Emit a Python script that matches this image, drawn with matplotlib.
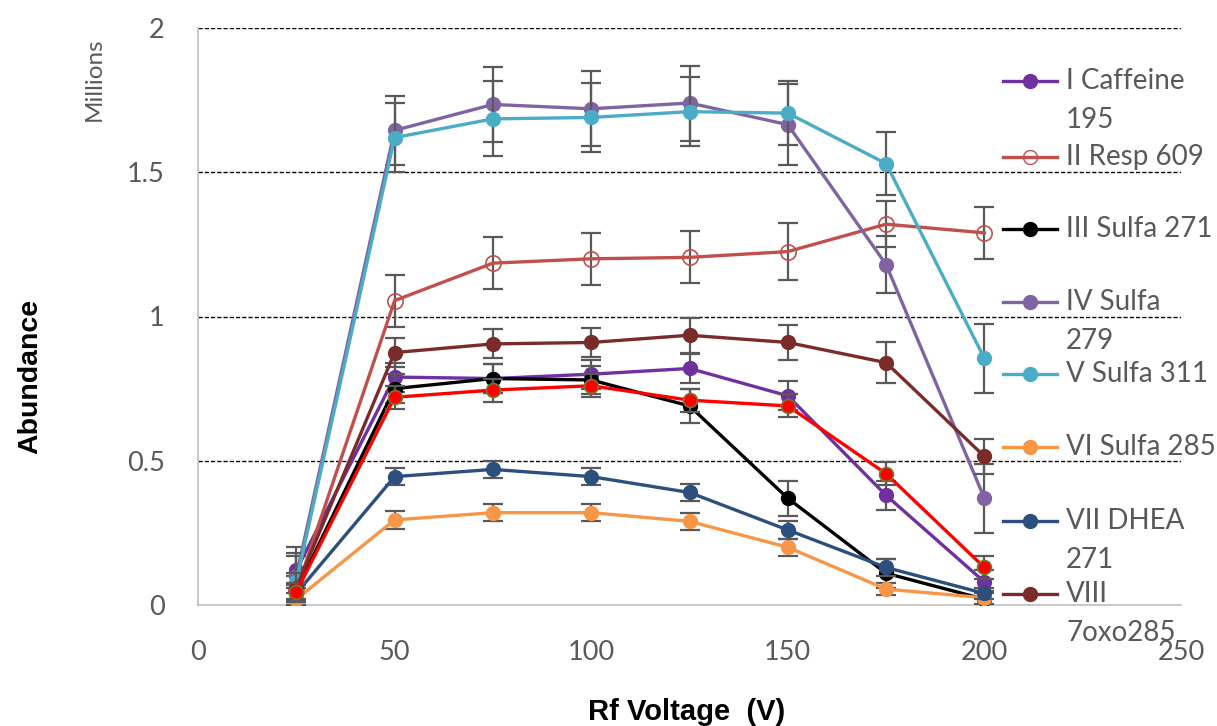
import numpy as np
import matplotlib
matplotlib.use("Agg")
import matplotlib.pyplot as plt
from matplotlib.lines import Line2D

# Rf voltage steps (V)
voltage = [25, 50, 75, 100, 125, 150, 175, 200]

# abundance, millions
caffeine = [0.12, 0.79, 0.785, 0.80, 0.82, 0.725, 0.38, 0.08]
caffeine_err = [0.05, 0.05, 0.05, 0.05, 0.05, 0.05, 0.05, 0.04]
resp609 = [0.05, 1.055, 1.185, 1.20, 1.205, 1.225, 1.32, 1.29]
resp609_err = [0.05, 0.09, 0.09, 0.09, 0.09, 0.10, 0.08, 0.09]
sulfa271 = [0.05, 0.75, 0.785, 0.78, 0.69, 0.37, 0.11, 0.02]
sulfa271_err = [0.05, 0.05, 0.05, 0.05, 0.06, 0.06, 0.05, 0.03]
sulfa279 = [0.10, 1.645, 1.735, 1.72, 1.74, 1.665, 1.18, 0.37]
sulfa279_err = [0.10, 0.12, 0.13, 0.13, 0.13, 0.14, 0.10, 0.12]
sulfa311 = [0.08, 1.62, 1.685, 1.69, 1.71, 1.705, 1.53, 0.855]
sulfa311_err = [0.10, 0.12, 0.13, 0.12, 0.12, 0.11, 0.11, 0.12]
sulfa285 = [0.02, 0.295, 0.32, 0.32, 0.29, 0.20, 0.055, 0.025]
sulfa285_err = [0.02, 0.03, 0.03, 0.03, 0.03, 0.03, 0.02, 0.02]
dhea271 = [0.04, 0.445, 0.47, 0.445, 0.39, 0.26, 0.13, 0.04]
dhea271_err = [0.02, 0.03, 0.03, 0.03, 0.03, 0.03, 0.03, 0.02]
oxo285 = [0.06, 0.875, 0.905, 0.91, 0.935, 0.91, 0.84, 0.515]
oxo285_err = [0.05, 0.05, 0.05, 0.05, 0.06, 0.06, 0.07, 0.06]
extra_red = [0.045, 0.72, 0.745, 0.76, 0.71, 0.69, 0.455, 0.13]
extra_red_err = [0.03, 0.04, 0.04, 0.04, 0.04, 0.04, 0.04, 0.04]

labels = ["I Caffeine\n195", "II Resp 609", "III Sulfa 271", "IV Sulfa\n279",
          "V Sulfa 311", "VI Sulfa 285", "VII DHEA\n271", "VIII\n7oxo285"]
series = [caffeine, resp609, sulfa271, sulfa279, sulfa311, sulfa285, dhea271, oxo285]
errors = [caffeine_err, resp609_err, sulfa271_err, sulfa279_err, sulfa311_err,
          sulfa285_err, dhea271_err, oxo285_err]
colors = ["#7030A0", "#C0504D", "#000000", "#8064A2", "#4BACC6", "#F79646",
          "#2C4F7C", "#7A2C2A"]
hollow = [False, True, False, False, False, False, False, False]

W, H = 1217, 726
fig = plt.figure(figsize=(W / 100, H / 100), dpi=100)
ax = fig.add_axes([198 / W, 1 - 605 / H, (1181 - 198) / W, (605 - 28) / H])

txt = "#595959"
font = "Lato"

def draw(y, yerr, c, open_marker=False, z=2):
    ax.errorbar(voltage, y, yerr=yerr, fmt="none", ecolor="#595959",
                elinewidth=1.6, capsize=7, capthick=1.6, zorder=z)
    ax.plot(voltage, y, color=c, lw=2.4, zorder=z + 0.5,
            marker="o", markersize=10 if not open_marker else 11,
            markerfacecolor="none" if open_marker else c,
            markeredgecolor=c, markeredgewidth=1.2 if open_marker else 1)

for i, (y, e, c, h) in enumerate(zip(series, errors, colors, hollow)):
    draw(y, e, c, h, z=2 + i)
# unlabeled red series
ax.errorbar(voltage, extra_red, yerr=extra_red_err, fmt="none", ecolor="#595959",
            elinewidth=1.6, capsize=7, capthick=1.6, zorder=11)
ax.plot(voltage, extra_red, color="#FF0000", lw=2.4, marker="o", markersize=10,
        markerfacecolor="#FF0000", markeredgecolor="#77772E", markeredgewidth=1.2,
        zorder=11.5)

ax.set_xlim(0, 250)
ax.set_ylim(0, 2)
ax.set_xticks([0, 50, 100, 150, 200, 250])
ax.set_yticks([0, 0.5, 1, 1.5, 2])
ax.set_yticklabels(["0", "0.5", "1", "1.5", "2"])
for yv in [0.5, 1, 1.5, 2]:
    ax.axhline(yv, color="black", lw=1.0, ls=(0, (3, 1.5)), zorder=1)
ax.tick_params(length=0, labelsize=19.5, labelcolor=txt)
ax.tick_params(axis="y", pad=24)
ax.tick_params(axis="x", pad=25)
for lab in ax.get_xticklabels() + ax.get_yticklabels():
    lab.set_fontfamily(font)
for s in ["top", "right"]:
    ax.spines[s].set_visible(False)
for s in ["left", "bottom"]:
    ax.spines[s].set_color("#BFBFBF")
    ax.spines[s].set_linewidth(1.2)
ax.set_facecolor("none")

fig.text(30 / W, 1 - 376 / H, "Abundance", rotation=90, ha="center", va="center",
         fontsize=20.5, fontweight="bold", family="Liberation Sans")
fig.text(94 / W, 1 - 79 / H, "Millions", rotation=90, ha="center", va="center",
         fontsize=17.5, color=txt, family=font)
fig.text(687 / W, 1 - 712 / H, "Rf Voltage  (V)", ha="center", va="center",
         fontsize=21, fontweight="bold", family="Liberation Sans")

# legend drawn by hand, handle aligned with the first text line
leg_y = [81, 157, 229, 302, 374, 447, 521, 594]
for ly, lab, c, h in zip(leg_y, labels, colors, hollow):
    fy = 1 - ly / H
    fig.add_artist(Line2D([1003 / W, 1030 / W, 1057 / W], [fy, fy, fy],
                          transform=fig.transFigure, color=c, lw=2.4,
                          marker="o", markevery=[1], markersize=10,
                          markerfacecolor="none" if h else c,
                          markeredgecolor=c))
    lines = lab.split("\n")
    for k, part in enumerate(lines):
        fig.text(1066 / W, 1 - (ly + 39 * k) / H, part, ha="left", va="center",
                 fontsize=20, color=txt, family=font)

fig.savefig("out.png", dpi=100)
